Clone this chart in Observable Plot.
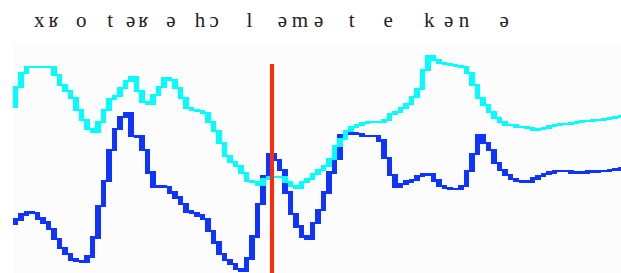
<!DOCTYPE html>
<html>
<head>
<meta charset="utf-8">
<script src="https://cdn.jsdelivr.net/npm/d3@7"></script>
<script src="https://cdn.jsdelivr.net/npm/@observablehq/plot@0.6"></script>
<style>
  html, body { margin: 0; padding: 0; background: #ffffff; }
  #chart svg { display: block; }
</style>
</head>
<body>
<div id="chart"></div>
<script>
// Sample spacing of the pitch tracks (ms)
const stepMs = 10;

// Upper (cyan) pitch track, one value per sample
const cyanPitch = [166,186,200,206,206.5,206.5,206.5,206,198,188,182,175.5,163,153,144,141,151,163,174.5,177.5,
  185.5,192,196,182,171.5,169.5,178,186,195,193,185,175.5,165.5,163,162,160,151.5,142,130,117.5,
  111.5,107,100.5,92.5,91,88.5,94,96,96.5,96.5,91,87,85,91,94,99.5,103,107,114.5,127,
  134.5,142,146,148,150,151,151,151,153.5,159,161,165,169.5,176,184,203,217,213,210,209,
  208,207.5,206,200.5,188,175.5,168,161,155.5,151.5,148.5,148,146.5,146,145,143.5,144.5,145,147,148.5,
  149,149.5,150.5,151.5,152,152.5,153,153.3,154.5,155,156.5,157];

// Lower (blue) pitch track, one value per sample
const bluePitch = [49,53.5,58.5,60.5,60,54.5,50.5,44,34,25,19,13.5,12,11.5,16.5,35.5,67,92,123,144,
  156,159.5,137,136.5,123,100.5,86.5,86.5,86,80.5,75.5,69,61.5,60,57.5,54,42,30.5,19,13,
  9,4,2,14.5,36.5,69,97,118.5,113,103,80.5,59,46.5,36.5,34,50,63,80.5,100.5,114.5,
  138,139,139.5,139,137,137,137,132.5,115,98,86.5,89,91.5,93,97,99,98.5,92.5,87,85,
  84,84,87,102,119,138,130,123,110,103,98,94,92,91,91.5,94.5,97,99,100.5,102,
  102,102,100.5,100.5,100.5,101.5,101,102,102,103,103.5,105];

// Phonetic transcription labels and their times (ms)
const phones = ["x","ʁ","o","t","ə","ʁ","ə","h","ɔ","l","ə","m","ə","t","e","k","ə","n","ə"];
const phoneTimes = [47,73,123,176,213,236,286,339,365,429,489,521,555,615,681,756,791,819,892];

// Marker time (ms)
const markerTime = [470];

function segments(vals) {
  const pts = vals.map((v, i) => ({t: i * stepMs, v}));
  return d3.pairs(pts).map(([a, b]) => ({
    t1: a.t, t2: b.t, lo: Math.min(a.v, b.v), hi: Math.max(a.v, b.v)
  }));
}

const labelData = phones.map((p, i) => ({p, t: phoneTimes[i]}));

const chart = Plot.plot({
  width: 621,
  height: 273,
  marginLeft: 13,
  marginRight: 0,
  marginTop: 43,
  marginBottom: 0,
  style: {background: "#ffffff", overflow: "visible"},
  x: {domain: [0, 1105.5], axis: null},
  y: {domain: [0, 230], axis: null},
  marks: [
    Plot.frame({fill: "#fcfcfc", stroke: null}),
    Plot.rect(segments(bluePitch), {
      x1: "t1", x2: "t2", y1: "lo", y2: "hi",
      fill: "#1034ff", insetTop: -1.1, insetBottom: -1.1, shapeRendering: "crispEdges"
    }),
    Plot.rect(segments(cyanPitch), {
      x1: "t1", x2: "t2", y1: "lo", y2: "hi",
      fill: "#00ffff", insetTop: -1, insetBottom: -1, shapeRendering: "crispEdges"
    }),
    Plot.ruleX(markerTime, {y1: 209, y2: 0, stroke: "#ff2a0a", strokeWidth: 4}),
    Plot.text(labelData, {
      x: "t", y: () => 246.3, text: "p",
      fontSize: 21, fontFamily: "Liberation Serif, Times New Roman, serif",
      fill: "#222222", textAnchor: "middle", lineAnchor: "bottom"
    })
  ]
});

document.getElementById("chart").appendChild(chart);
</script>
</body>
</html>
